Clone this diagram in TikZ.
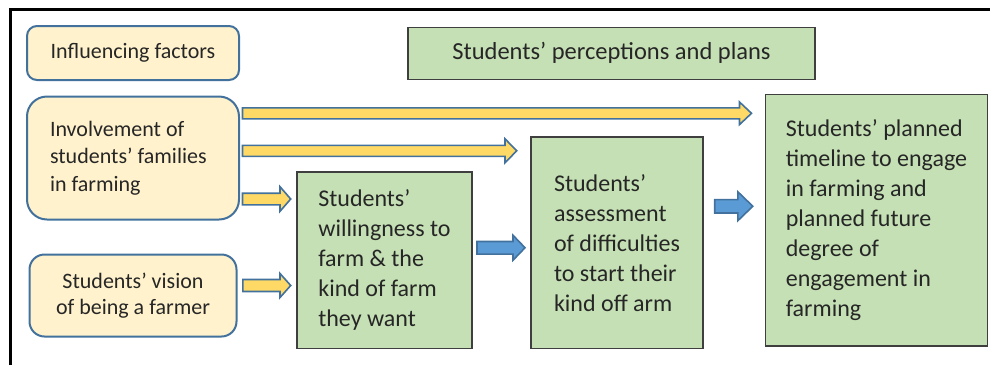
\documentclass[tikz,border=0pt]{standalone}
\usepackage{fontspec}
\setmainfont{Carlito}
\usepackage{xcolor}
\usetikzlibrary{positioning,calc}

\definecolor{cream}{HTML}{FFF2CC}
\definecolor{edgeblue}{HTML}{41719C}
\definecolor{palegreen}{HTML}{C5E0B4}
\definecolor{boxgray}{HTML}{3F3F3F}
\definecolor{gold}{HTML}{FFD966}
\definecolor{skyblue}{HTML}{5B9BD5}
\definecolor{ink}{HTML}{262626}

% block arrow: style, tail, tip, half shaft, half head, head length
\newcommand{\blockarrow}[6]{%
  \draw[#1] let \p1=(#2), \p2=(#3) in
    (\x1,\y1+#4) -- (\x2-#6,\y1+#4) -- (\x2-#6,\y1+#5) -- (\x2,\y1)
    -- (\x2-#6,\y1-#5) -- (\x2-#6,\y1-#4) -- (\x1,\y1-#4) -- cycle;}

\begin{document}
\begin{tikzpicture}[%
    x=1pt,
    y=-1pt,
    every node/.style={outer sep=0pt},
    factorbox/.style={%
      rectangle,
      rounded corners=#1,
      draw=edgeblue,
      line width=2pt,
      fill=cream,
      text=ink,
      align=center,
      font=\fontsize{22pt}{27.5pt}\selectfont
    },
    factorbox/.default=10pt,
    stagebox/.style={%
      rectangle,
      draw=boxgray,
      line width=1.3pt,
      fill=palegreen,
      text=ink,
      align=flush left,
      font=\fontsize{24pt}{30pt}\selectfont
    },
    yellowarrow/.style={fill=gold, draw=edgeblue, line width=1.6pt},
    bluearrow/.style={fill=skyblue, draw=edgeblue, line width=1.6pt}
  ]
    \useasboundingbox (0,0) rectangle (990,365);
    \draw[line width=3pt] (10.5,365) |- (990,9);

    \node[factorbox, minimum width=212pt, minimum height=54pt, anchor=north west] (fac) at (27,26) {Influencing factors};
    \node[factorbox=20pt, minimum width=212pt, minimum height=123pt, align=flush left, text width=166pt, inner xsep=23pt]
      (inv) [below right=16.5pt and 0pt of fac.south west] {Involvement of\\students’ families\\in farming};
    \node[factorbox=15pt, minimum width=207pt, minimum height=82pt, font=\fontsize{22pt}{26pt}\selectfont]
      (vis) [below right=35pt and 2.5pt of inv.south west] {Students’ vision\\of being a farmer};

    \node[stagebox, minimum width=407pt, minimum height=52pt, align=center, font=\fontsize{24.5pt}{30pt}\selectfont]
      (perc) [below right=1.3pt and 169pt of fac.north east] {Students’ perceptions and plans};
    \node[stagebox, minimum width=175pt, minimum height=176.5pt]
      (will) [above right=0pt and 58pt of inv.south east, yshift=-129pt] {Students’\\willingness to\\farm \& the\\kind of farm\\they want};
    \node[stagebox, minimum width=172pt, minimum height=211.5pt]
      (assess) [right=59pt of will.south east, anchor=south west] {Students’\\assessment\\of difficulties\\to start their\\kind off arm};
    \node[stagebox, minimum width=222pt, minimum height=251.5pt]
      (plan) [above right=2.6pt and 62.5pt of assess.south east] {Students’ planned\\timeline to engage\\in farming and\\planned future\\degree of\\engagement in\\farming};

    \blockarrow{yellowarrow}{$(inv.north east)+(3.5,16.8)$}{$(plan.west)+(-14,0)$}{5.5pt}{11.3pt}{12pt}
    \blockarrow{yellowarrow}{$(inv.north east)+(3.5,54.3)$}{$(assess.west)+(-14.3,0)$}{5.5pt}{12pt}{11.7pt}
    \blockarrow{yellowarrow}{$(inv.north east)+(3.5,102.5)$}{$(will.west)+(-6.3,0)$}{5.8pt}{12.3pt}{10.7pt}
    \blockarrow{yellowarrow}{$(vis.east)+(6.3,-10)$}{$(will.west)+(-6.3,0)$}{6pt}{12pt}{10.7pt}
    \blockarrow{bluearrow}{$(will.east)+(5,-12.5)$}{$(assess.west)+(-6,0)$}{6.3pt}{12.5pt}{12pt}
    \blockarrow{bluearrow}{$(assess.east)+(11.7,-36.5)$}{$(plan.west)+(-12.7,0)$}{6.7pt}{14.5pt}{15pt}
  \end{tikzpicture}
\end{document}
